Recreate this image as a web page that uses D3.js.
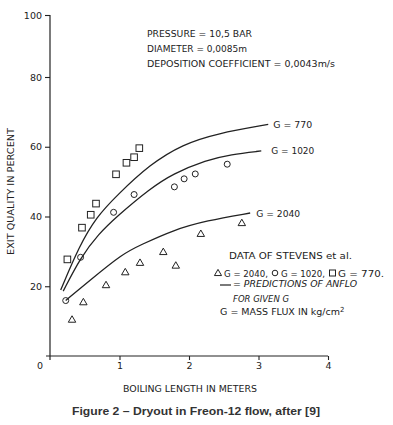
<!DOCTYPE html>
<html>
<head>
<meta charset="utf-8">
<script src="https://cdn.jsdelivr.net/npm/d3@7"></script>
<style>
  body { margin: 0; background: #fff; }
  svg text { font-family: "DejaVu Sans", sans-serif; fill: #222; }
</style>
</head>
<body>
<svg id="drawing_region"></svg>
<script>
// measured points, x = boiling length (m), y = exit quality (%)
const square_770 = [
    [0.25, 27.7], [0.46, 36.8], [0.586, 40.5], [0.662, 43.7],
    [0.95, 52.1], [1.10, 55.4], [1.21, 57.0], [1.285, 59.6]
];
const circle_1020 = [
    [0.226, 15.9], [0.44, 28.3], [0.915, 41.2], [1.21, 46.3],
    [1.79, 48.5], [1.93, 50.8], [2.09, 52.2], [2.55, 55.0]
];
const triangle_2040 = [
    [0.317, 10.3], [0.48, 15.3], [0.806, 20.2], [1.083, 23.9], [1.295, 26.6],
    [1.63, 29.7], [1.81, 25.8], [2.17, 34.9], [2.76, 38.0]
];

// ANFLO prediction curves
const curve_770 = [
    [0.154, 18.9], [0.42, 31.5], [0.67, 39.9], [0.96, 46.0],
    [1.44, 55.0], [1.91, 60.7], [2.4, 63.8], [3.14, 66.4]
];
const curve_1020 = [
    [0.19, 18.6], [0.44, 28.3], [0.7, 35.0], [0.96, 40.0],
    [1.44, 48.0], [1.77, 52.3], [2.25, 56.2], [2.6, 57.8], [3.04, 58.8]
];
const curve_2040 = [
    [0.226, 15.9], [0.58, 21.8], [1.05, 29.4], [1.3, 31.8],
    [1.77, 36.1], [2.25, 38.8], [2.88, 41.0]
];
const curve_labels = ['G = 770', 'G = 1020', 'G = 2040'];

const x_ticks = [1, 2, 3, 4];
const y_ticks = [20, 40, 60, 80, 100];

const svg = d3.select('#drawing_region')
    .attr('width', 393)
    .attr('height', 425);

const ink = '#222';

// the scanned axis is a bit squeezed at the top, so y is piecewise
const xscale = d3.scaleLinear().domain([0, 4]).range([50, 328]);
const yscale = d3.scaleLinear().domain([0, 80, 100]).range([356, 77, 15]);

// axes
const yaxis = d3.axisLeft(yscale)
    .tickValues(y_ticks)
    .tickFormat(d3.format('d'))
    .tickSize(5)
    .tickPadding(3)
    .tickSizeOuter(0);
const ya = svg.append('g')
    .attr('transform', `translate(${xscale(0)},0)`)
    .call(yaxis);
ya.select('.domain').remove();
ya.selectAll('line').attr('stroke', ink).attr('stroke-width', 1.1);
ya.selectAll('text').style('font-size', '9.5px').attr('fill', ink);

const xaxis = d3.axisBottom(xscale)
    .tickValues(x_ticks)
    .tickFormat(d3.format('d'))
    .tickSize(4)
    .tickPadding(2)
    .tickSizeOuter(0);
const xa = svg.append('g')
    .attr('transform', `translate(0,${yscale(0)})`)
    .call(xaxis);
xa.select('.domain').remove();
xa.selectAll('line').attr('stroke', ink).attr('stroke-width', 1.1);
xa.selectAll('text').style('font-size', '9.5px').attr('fill', ink);

svg.append('line')
    .attr('x1', xscale(0)).attr('x2', xscale(0))
    .attr('y1', yscale(100)).attr('y2', yscale(0) + 4)
    .attr('stroke', ink).attr('stroke-width', 1.2);
svg.append('line')
    .attr('x1', xscale(0) - 4).attr('x2', xscale(4))
    .attr('y1', yscale(0)).attr('y2', yscale(0))
    .attr('stroke', ink).attr('stroke-width', 1.2);

svg.append('text')
    .attr('x', 40).attr('y', 369)
    .attr('text-anchor', 'middle')
    .style('font-size', '9.5px')
    .text('0');

// axis titles
svg.append('text')
    .attr('x', 190).attr('y', 391.5)
    .attr('text-anchor', 'middle')
    .attr('textLength', 134).attr('lengthAdjust', 'spacingAndGlyphs')
    .style('font-size', '9.5px')
    .text('BOILING LENGTH IN METERS');

svg.append('text')
    .attr('transform', 'translate(13.5,191.5) rotate(-90)')
    .attr('text-anchor', 'middle')
    .attr('textLength', 127).attr('lengthAdjust', 'spacingAndGlyphs')
    .style('font-size', '9.5px')
    .text('EXIT QUALITY IN PERCENT');

// prediction curves
const line = d3.line()
    .x(d => xscale(d[0]))
    .y(d => yscale(d[1]))
    .curve(d3.curveBasis);

const curves = [curve_770, curve_1020, curve_2040];
svg.selectAll('path.pred')
    .data(curves)
    .enter()
    .append('path')
    .attr('class', 'pred')
    .attr('d', line)
    .attr('fill', 'none')
    .attr('stroke', ink)
    .attr('stroke-width', 1.3);

const label_dx = [5, 10, 6];
svg.selectAll('text.glabel')
    .data(curves)
    .enter()
    .append('text')
    .attr('class', 'glabel')
    .attr('x', (d, i) => xscale(d[d.length - 1][0]) + label_dx[i])
    .attr('y', d => yscale(d[d.length - 1][1]) + 3.5)
    .attr('textLength', (d, i) => [39, 43, 44][i])
    .attr('lengthAdjust', 'spacingAndGlyphs')
    .style('font-size', '9.5px')
    .text((d, i) => curve_labels[i]);

// data of Stevens et al.
svg.selectAll('rect.sq')
    .data(square_770)
    .enter()
    .append('rect')
    .attr('class', 'sq')
    .attr('x', d => xscale(d[0]) - 3.3)
    .attr('y', d => yscale(d[1]) - 3.3)
    .attr('width', 6.6).attr('height', 6.6)
    .attr('fill', 'none')
    .attr('stroke', ink).attr('stroke-width', 1);

svg.selectAll('circle.ci')
    .data(circle_1020)
    .enter()
    .append('circle')
    .attr('class', 'ci')
    .attr('cx', d => xscale(d[0]))
    .attr('cy', d => yscale(d[1]))
    .attr('r', 3)
    .attr('fill', 'none')
    .attr('stroke', ink).attr('stroke-width', 1);

const tri = d3.symbol().type(d3.symbolTriangle).size(24);
svg.selectAll('path.tr')
    .data(triangle_2040)
    .enter()
    .append('path')
    .attr('class', 'tr')
    .attr('d', tri)
    .attr('transform', d => `translate(${xscale(d[0])},${yscale(d[1])})`)
    .attr('fill', 'none')
    .attr('stroke', ink).attr('stroke-width', 1);

// conditions block
const conditions = [
    ['PRESSURE = 10,5 BAR', 105],
    ['DIAMETER = 0,0085m', 100],
    ['DEPOSITION COEFFICIENT = 0,0043m/s', 188]
];
svg.selectAll('text.cond')
    .data(conditions)
    .enter()
    .append('text')
    .attr('class', 'cond')
    .attr('x', 147)
    .attr('y', (d, i) => 36.5 + i * 15)
    .attr('textLength', d => d[1])
    .attr('lengthAdjust', 'spacingAndGlyphs')
    .style('font-size', '9.5px')
    .text(d => d[0]);

// legend block
svg.append('text')
    .attr('x', 229).attr('y', 258.5)
    .attr('textLength', 123).attr('lengthAdjust', 'spacingAndGlyphs')
    .style('font-size', '9.5px')
    .text('DATA OF STEVENS et al.');

// symbol row: little marks drawn as shapes, text in between
const row_y = 273;
const row = svg.append('g');
row.append('path')
    .attr('d', d3.symbol().type(d3.symbolTriangle).size(22))
    .attr('transform', `translate(218,${row_y + 0.5})`)
    .attr('fill', 'none').attr('stroke', ink).attr('stroke-width', 1);
row.append('text')
    .attr('x', 224).attr('y', row_y + 3.5)
    .attr('textLength', 44).attr('lengthAdjust', 'spacingAndGlyphs')
    .style('font-size', '9.5px')
    .text('G = 2040,');
row.append('circle')
    .attr('cx', 275).attr('cy', row_y).attr('r', 2.8)
    .attr('fill', 'none').attr('stroke', ink).attr('stroke-width', 1);
row.append('text')
    .attr('x', 281).attr('y', row_y + 3.5)
    .attr('textLength', 44).attr('lengthAdjust', 'spacingAndGlyphs')
    .style('font-size', '9.5px')
    .text('G = 1020,');
row.append('rect')
    .attr('x', 329.5).attr('y', row_y - 3).attr('width', 6).attr('height', 6)
    .attr('fill', 'none').attr('stroke', ink).attr('stroke-width', 1);
row.append('text')
    .attr('x', 338).attr('y', row_y + 3.5)
    .attr('textLength', 46).attr('lengthAdjust', 'spacingAndGlyphs')
    .style('font-size', '9.5px')
    .text('G = 770.');

svg.append('line')
    .attr('x1', 220).attr('x2', 231)
    .attr('y1', 285).attr('y2', 285)
    .attr('stroke', ink).attr('stroke-width', 1.2);
svg.append('text')
    .attr('x', 233).attr('y', 286.5)
    .attr('textLength', 124).attr('lengthAdjust', 'spacingAndGlyphs')
    .style('font-size', '9.5px')
    .style('font-style', 'italic')
    .text('= PREDICTIONS OF ANFLO');
svg.append('text')
    .attr('x', 233).attr('y', 301.5)
    .attr('textLength', 56).attr('lengthAdjust', 'spacingAndGlyphs')
    .style('font-size', '9.5px')
    .style('font-style', 'italic')
    .text('FOR GIVEN G');
const mf = svg.append('text')
    .attr('x', 220).attr('y', 315)
    .style('font-size', '9.5px');
mf.append('tspan').text('G = MASS FLUX IN kg/cm');
mf.append('tspan').attr('dy', -3.5).style('font-size', '7px').text('2');

// caption
svg.append('text')
    .attr('x', 196).attr('y', 414.5)
    .attr('text-anchor', 'middle')
    .attr('textLength', 248).attr('lengthAdjust', 'spacingAndGlyphs')
    .style('font-family', '"Liberation Sans", Arial, sans-serif')
    .style('font-weight', 'bold')
    .style('font-size', '11.5px')
    .style('fill', '#333')
    .text('Figure 2 \u2013 Dryout in Freon-12 flow, after [9]');
</script>
</body>
</html>
